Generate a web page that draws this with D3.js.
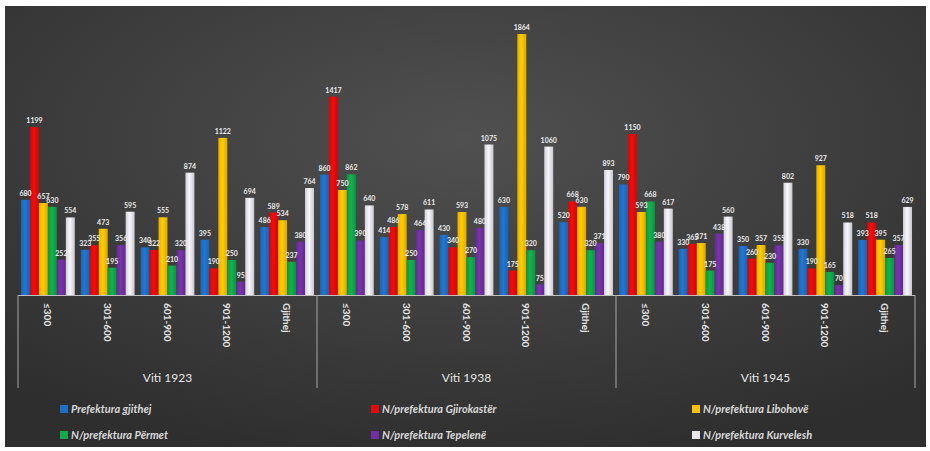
<!DOCTYPE html>
<html>
<head>
<meta charset="utf-8">
<script src="https://cdn.jsdelivr.net/npm/d3@7"></script>
<style>
  body { margin: 0; background: #fff; }
  text { font-family: Lato, "Open Sans", sans-serif; }
</style>
</head>
<body>
<script>
var years = ["Viti 1923", "Viti 1938", "Viti 1945"];
var categories = ["≤300", "301-600", "601-900", "901-1200", "Gjithej"];

var seriesNames = ["Prefektura gjithej", "N/prefektura Gjirokastër", "N/prefektura Libohovë",
                   "N/prefektura Përmet", "N/prefektura Tepelenë", "N/prefektura Kurvelesh"];
var colors = ["#1f6fc6", "#e30b0b", "#ffc000", "#10a84a", "#7030a0", "#e6e6ec"];

// 5 categories x 3 years, in order
var prefGjithej = [680, 323, 340, 395, 486,  860, 414, 430, 630, 520,  790, 330, 350, 330, 393];
var gjirokaster = [1199, 355, 322, 190, 589,  1417, 486, 340, 175, 668,  1150, 365, 260, 190, 518];
var libohove    = [657, 473, 555, 1122, 534,  750, 578, 593, 1864, 630,  593, 371, 357, 927, 395];
var permet      = [630, 195, 210, 250, 237,  862, 250, 270, 320, 320,  668, 175, 230, 165, 265];
var tepelene    = [252, 356, 320, 95, 380,  390, 464, 480, 75, 371,  380, 438, 355, 70, 357];
var kurvelesh   = [554, 595, 874, 694, 764,  640, 611, 1075, 1060, 893,  617, 560, 802, 518, 629];

var series = [prefGjithej, gjirokaster, libohove, permet, tepelene, kurvelesh];

var width = 930, height = 451;

var svg = d3.select("body").append("svg")
    .attr("width", width)
    .attr("height", height);

var defs = svg.append("defs");
var bg = defs.append("radialGradient").attr("id", "bg")
    .attr("cx", "50%").attr("cy", "30%").attr("r", "75%");
bg.append("stop").attr("offset", "0%").attr("stop-color", "#505050");
bg.append("stop").attr("offset", "100%").attr("stop-color", "#2e2e2e");

// cylinder-ish shading for the bars
colors.forEach(function(c, i){
  var g = defs.append("linearGradient").attr("id", "bar" + i)
      .attr("x1", "0%").attr("x2", "100%");
  g.append("stop").attr("offset", "0%").attr("stop-color", d3.color(c).darker(0.3));
  g.append("stop").attr("offset", "45%").attr("stop-color", d3.color(c).brighter(0.2));
  g.append("stop").attr("offset", "100%").attr("stop-color", d3.color(c).darker(0.4));
});

svg.append("rect")
    .attr("x", 5).attr("y", 6)
    .attr("width", 921).attr("height", 441)
    .attr("fill", "url(#bg)");

var groups = d3.range(years.length * categories.length);

var x0 = d3.scaleBand()
    .domain(groups)
    .range([18, 915])
    .paddingInner(0.1)
    .paddingOuter(0.05);

var x1 = d3.scaleBand()
    .domain(d3.range(series.length))
    .range([0, x0.bandwidth()]);

var y = d3.scaleLinear()
    .domain([0, 2000])
    .range([295, 15]);

var g = svg.selectAll("g.group")
    .data(groups)
  .enter().append("g")
    .attr("class", "group")
    .attr("transform", function(d){ return "translate(" + x0(d) + ",0)"; });

g.selectAll("rect")
    .data(function(d){ return series.map(function(s, i){ return {s: i, v: s[d]}; }); })
  .enter().append("rect")
    .attr("x", function(d){ return x1(d.s); })
    .attr("y", function(d){ return y(d.v); })
    .attr("width", x1.bandwidth())
    .attr("height", function(d){ return y(0) - y(d.v); })
    .attr("fill", function(d){ return "url(#bar" + d.s + ")"; });

g.selectAll("text")
    .data(function(d){ return series.map(function(s, i){ return {s: i, v: s[d]}; }); })
  .enter().append("text")
    .attr("x", function(d){ return x1(d.s) + x1.bandwidth() / 2; })
    .attr("y", function(d){ return y(d.v) - 4; })
    .attr("text-anchor", "middle")
    .attr("font-size", 7)
    .attr("font-weight", "bold")
    .attr("fill", "#ececec")
    .text(function(d){ return d.v; });

// axis baseline
svg.append("line")
    .attr("x1", 18).attr("x2", 915)
    .attr("y1", y(0) + 0.5).attr("y2", y(0) + 0.5)
    .attr("stroke", "#bfbfbf");

// year separators
var step = x0.step();
d3.range(years.length + 1).forEach(function(i){
  var xx = 18 + i * step * categories.length;
  svg.append("line")
      .attr("x1", xx).attr("x2", xx)
      .attr("y1", y(0)).attr("y2", 388)
      .attr("stroke", "#a6a6a6");
});

// category labels, rotated
svg.selectAll("text.cat")
    .data(groups)
  .enter().append("text")
    .attr("class", "cat")
    .attr("transform", function(d){
      return "translate(" + (x0(d) + x0.bandwidth() / 2 - 4) + "," + 303 + ") rotate(90)";
    })
    .attr("font-size", 10)
    .attr("font-weight", "bold")
    .attr("fill", "#e6e6e6")
    .text(function(d){ return categories[d % categories.length]; });

svg.selectAll("text.year")
    .data(years)
  .enter().append("text")
    .attr("class", "year")
    .attr("x", function(d, i){ return 18 + (i + 0.5) * step * categories.length; })
    .attr("y", 382)
    .attr("text-anchor", "middle")
    .attr("font-size", 12)
    .attr("fill", "#e6e6e6")
    .text(function(d){ return d; });

// legend
var legendX = [60, 371, 692], legendY = [412, 438];
var lg = svg.selectAll("g.legend")
    .data(seriesNames)
  .enter().append("g")
    .attr("class", "legend")
    .attr("transform", function(d, i){
      return "translate(" + legendX[i % 3] + "," + legendY[Math.floor(i / 3)] + ")";
    });

lg.append("rect")
    .attr("x", 0).attr("y", -7)
    .attr("width", 8).attr("height", 8)
    .attr("fill", function(d, i){ return colors[i]; });

lg.append("text")
    .attr("x", 11).attr("y", 1)
    .attr("font-size", 11)
    .attr("font-weight", "bold")
    .attr("font-style", "italic")
    .attr("fill", "#d9d9d9")
    .text(function(d){ return d; });
</script>
</body>
</html>
